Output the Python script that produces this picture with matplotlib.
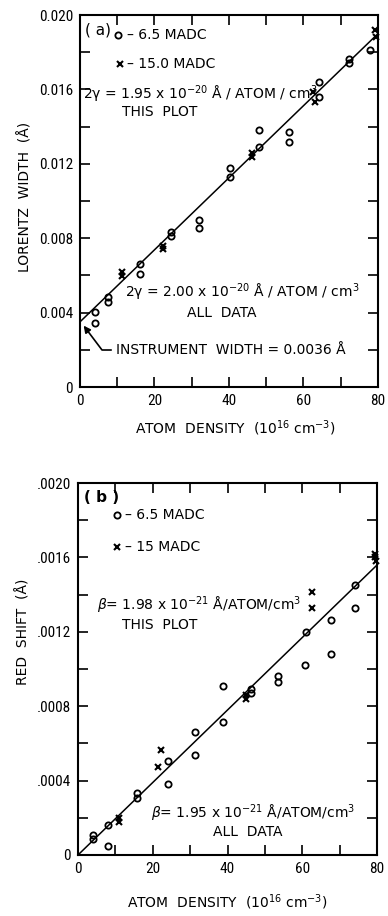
#!/usr/bin/env python
# coding: utf-8

import matplotlib
matplotlib.use('Agg')
from matplotlib import pyplot as plt
from matplotlib import font_manager

# (a) Lorentz width vs atom density
a_circ_x = [4.0, 4.0, 7.6, 7.6, 16.1, 16.1, 24.4, 24.4, 32.0, 32.0, 40.3, 40.3,
            48.1, 48.1, 56.0, 56.0, 64.2, 64.2, 72.2, 72.2, 77.9]
a_circ_y = [0.00403, 0.00344, 0.00484, 0.00457, 0.00661, 0.00608, 0.00833, 0.00812,
            0.00898, 0.00855, 0.01177, 0.01129, 0.01382, 0.01290, 0.01371, 0.01317,
            0.01640, 0.01559, 0.01763, 0.01742, 0.01812]
a_cross_x = [11.3, 11.3, 22.2, 22.2, 46.1, 46.1, 62.6, 63.1, 79.2, 79.5]
a_cross_y = [0.00618, 0.00597, 0.00758, 0.00742, 0.01258, 0.01237, 0.01586, 0.01532,
             0.01919, 0.01882]
a_fit_x = [0, 80]
a_fit_y = [0.0035, 0.0190]

# (b) red shift vs atom density
b_circ_x = [4.0, 4.0, 7.9, 7.9, 15.9, 15.9, 24.0, 24.0, 31.4, 31.4, 38.9, 38.9,
            46.4, 46.4, 53.6, 53.6, 60.8, 61.0, 67.7, 67.7, 74.1, 74.1]
b_circ_y = [0.000108, 0.000086, 0.000161, 0.000048, 0.000333, 0.000306, 0.000505,
            0.000382, 0.000660, 0.000538, 0.000909, 0.000715, 0.000892, 0.000870,
            0.000962, 0.000930, 0.001020, 0.001200, 0.001080, 0.001263, 0.001452,
            0.001328]
b_cross_x = [11.1, 11.1, 21.5, 22.1, 45.0, 45.0, 62.6, 62.6, 79.4, 79.4, 79.6]
b_cross_y = [0.000199, 0.000177, 0.000473, 0.000565, 0.000839, 0.000860, 0.001414,
             0.001328, 0.001600, 0.001620, 0.001580]
b_fit_x = [0, 80]
b_fit_y = [0.0, 0.00156]

x_ticks = [0, 20, 40, 60, 80]
a_yticks = [0, 0.004, 0.008, 0.012, 0.016, 0.020]
a_ylabels = ['0', '0.004', '0.008', '0.012', '0.016', '0.020']
b_yticks = [0, 0.0004, 0.0008, 0.0012, 0.0016, 0.0020]
b_ylabels = ['0', '.0004', '.0008', '.0012', '.0016', '.0020']


def pick_narrow():
    names = {f.name for f in font_manager.fontManager.ttflist}
    for name in ('Liberation Sans Narrow', 'Roboto Condensed'):
        if name in names:
            return name
    return 'DejaVu Sans'


NARROW = pick_narrow()
plt.rcParams['font.family'] = ['DejaVu Sans']
plt.rcParams['mathtext.default'] = 'regular'

K = 'black'
fs = 10


def style_axes(ax, yticks, ylabels, ymax):
    ax.set_xlim(0, 80)
    ax.set_ylim(0, ymax)
    ax.set_xticks(x_ticks)
    ax.set_xticks(range(0, 81, 10), minor=True)
    ax.set_yticks(yticks)
    ax.set_yticklabels(ylabels)
    ax.set_yticks([ymax / 10 * i for i in range(11)], minor=True)
    ax.tick_params(which='both', direction='in', top=True, right=True,
                   length=7, width=1.2, labelsize=11, pad=5)
    for lbl in ax.get_xticklabels() + ax.get_yticklabels():
        lbl.set_fontfamily(NARROW)
    for s in ax.spines.values():
        s.set_linewidth(1.5)


def draw_points(ax, cx, cy, xx, xy, fx, fy):
    ax.plot(fx, fy, '-', color=K, lw=1.1)
    ax.plot(cx, cy, 'o', ms=4.5, mfc='none', mec=K, mew=1.3, clip_on=False)
    ax.plot(xx, xy, 'x', ms=4.5, color=K, mew=1.5, clip_on=False)


fig = plt.figure(figsize=(3.88, 9.16), dpi=100)

# ---- panel (a)
ax1 = fig.add_axes([0.206, 0.5775, 0.768, 0.406])
draw_points(ax1, a_circ_x, a_circ_y, a_cross_x, a_cross_y, a_fit_x, a_fit_y)
style_axes(ax1, a_yticks, a_ylabels, 0.020)
ax1.text(1.3, 0.0192, '( a)', fontsize=fs + 1, va='center')
ax1.plot([10.2], [0.01892], 'o', ms=4.5, mfc='none', mec=K, mew=1.3)
ax1.text(12.6, 0.01892, '\u2013 6.5 MADC', fontsize=fs, va='center')
ax1.plot([10.7], [0.01737], 'x', ms=4, color=K, mew=1.5)
ax1.text(12.6, 0.01737, '\u2013 15.0 MADC', fontsize=fs, va='center')
ax1.text(0.8, 0.01575, r'2$\gamma$ = 1.95 x 10$^{-20}$ Å / ATOM / cm$^{3}$',
         fontsize=fs, va='center')
ax1.text(21.5, 0.01478, 'THIS  PLOT', fontsize=fs, va='center', ha='center')
ax1.text(12.1, 0.00511, r'2$\gamma$ = 2.00 x 10$^{-20}$ Å / ATOM / cm$^{3}$',
         fontsize=fs, va='center')
ax1.text(38.1, 0.00398, 'ALL  DATA', fontsize=fs, va='center', ha='center')
ax1.text(9.7, 0.00199, 'INSTRUMENT  WIDTH = 0.0036 Å', fontsize=fs, va='center')
ax1.annotate('', xy=(1.0, 0.0033), xytext=(8.4, 0.00199),
             arrowprops=dict(arrowstyle='-|>', color=K, lw=1.2, shrinkA=0, shrinkB=0,
                             connectionstyle='angle,angleA=0,angleB=127,rad=0'))
ax1.set_ylabel('LORENTZ  WIDTH  (Å)', fontsize=10)
ax1.yaxis.set_label_coords(-0.16, 0.51)
ax1.set_xlabel(r'ATOM  DENSITY  (10$^{16}$ cm$^{-3}$)', fontsize=10)
ax1.xaxis.set_label_coords(0.523, -0.085)

# ---- panel (b)
ax2 = fig.add_axes([0.201, 0.0666, 0.771, 0.406])
draw_points(ax2, b_circ_x, b_circ_y, b_cross_x, b_cross_y, b_fit_x, b_fit_y)
style_axes(ax2, b_yticks, b_ylabels, 0.0020)
ax2.text(1.6, 0.001925, '( b )', fontsize=fs + 1, va='center', fontweight='bold')
ax2.plot([10.4], [0.001828], 'o', ms=4.5, mfc='none', mec=K, mew=1.3)
ax2.text(12.6, 0.001828, '\u2013 6.5 MADC', fontsize=fs, va='center')
ax2.plot([10.4], [0.001656], 'x', ms=4, color=K, mew=1.5)
ax2.text(12.6, 0.001656, '\u2013 15 MADC', fontsize=fs, va='center')
ax2.text(5.1, 0.00134, r'$\mathit{\beta}$= 1.98 x 10$^{-21}$ Å/ATOM/cm$^{3}$',
         fontsize=fs, va='center')
ax2.text(21.9, 0.001235, 'THIS  PLOT', fontsize=fs, va='center', ha='center')
ax2.text(19.6, 0.000226, r'$\mathit{\beta}$= 1.95 x 10$^{-21}$ Å/ATOM/cm$^{3}$',
         fontsize=fs, va='center')
ax2.text(45.5, 0.000125, 'ALL  DATA', fontsize=fs, va='center', ha='center')
ax2.set_ylabel('RED  SHIFT  (Å)', fontsize=10)
ax2.yaxis.set_label_coords(-0.16, 0.6)
ax2.set_xlabel(r'ATOM  DENSITY  (10$^{16}$ cm$^{-3}$)', fontsize=10)
ax2.xaxis.set_label_coords(0.5, -0.1)

plt.savefig('out.png', dpi=100)
